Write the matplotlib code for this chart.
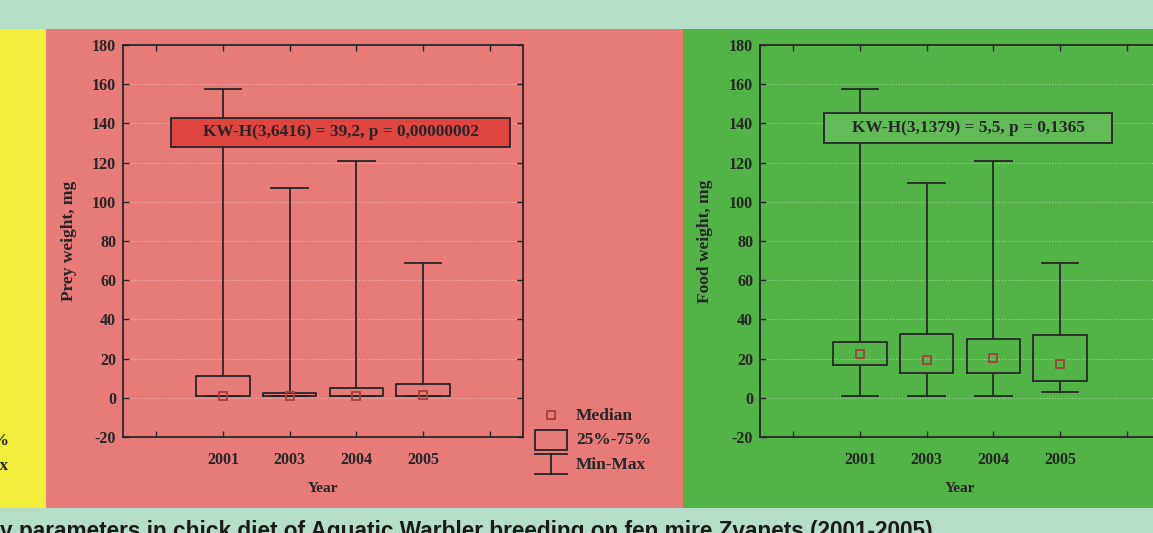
import matplotlib
matplotlib.use("Agg")
import matplotlib.pyplot as plt
from matplotlib.patches import Rectangle

plt.rcParams["axes.unicode_minus"] = False

# Kruskal-Wallis summaries per year (mg)
years = ["2001", "2003", "2004", "2005"]

prey_min = [0.8, 0.8, 0.8, 0.8]
prey_q1 = [0.9, 0.9, 0.9, 0.9]
prey_median = [0.8, 0.8, 0.8, 1.4]
prey_q3 = [10.9, 2.7, 4.9, 6.8]
prey_max = [157.6, 107.0, 120.8, 68.8]
prey_test = "KW-H(3,6416) = 39,2, p = 0,00000002"

food_min = [0.8, 0.8, 0.8, 2.9]
food_q1 = [16.7, 12.8, 12.8, 8.7]
food_median = [22.3, 19.4, 20.2, 17.2]
food_q3 = [28.7, 32.8, 29.8, 31.8]
food_max = [157.6, 109.7, 120.8, 68.8]
food_test = "KW-H(3,1379) = 5,5, p = 0,1365"

yticks = [-20, 0, 20, 40, 60, 80, 100, 120, 140, 160, 180]

W, H = 1153, 533
TEAL = "#b5dec9"
YELLOW = "#f2ee3b"
RED_BG = "#e67b78"
GREEN_BG = "#52b346"
INK = "#262626"
MED = "#a8403c"

SERIF = ["Liberation Serif", "DejaVu Serif"]


def px(x, y, w, h):
    # pixel box (top-left origin) -> figure fraction
    return [x / W, 1 - (y + h) / H, w / W, h / H]


fig = plt.figure(figsize=(W / 100, H / 100), dpi=100)
fig.patch.set_facecolor(TEAL)

for (x, y, w, h), c in [((0, 29, 46, 479), YELLOW),
                        ((46, 29, 637, 479), RED_BG),
                        ((683, 29, 470, 479), GREEN_BG)]:
    l, b, ww, hh = px(x, y, w, h)
    fig.patches.append(Rectangle((l, b), ww, hh, transform=fig.transFigure,
                                 facecolor=c, edgecolor="none", zorder=-2))


def panel(rect, bg, lo, q1, med, q3, hi, test, box_rect, box_fc, ylabel,
          label_x):
    ax = fig.add_axes(px(*rect))
    ax.set_facecolor(bg)
    stats = [dict(whislo=a, q1=b, med=c, q3=d, whishi=e, label=y)
             for a, b, c, d, e, y in zip(lo, q1, med, q3, hi, years)]
    pos = list(range(1, len(years) + 1))
    line = dict(color=INK, linewidth=1.3)
    ax.bxp(stats, positions=pos, widths=0.8, capwidths=0.55,
           showfliers=False, boxprops=line, whiskerprops=line,
           capprops=line, medianprops=dict(visible=False),
           manage_ticks=False)
    ax.plot(pos, med, "s", ms=5.5, mfc="none", mec=MED, mew=1.3, zorder=4)

    ax.set_xlim(-0.5, 5.5)
    ax.set_ylim(-20, 180)
    ax.set_xticks(range(0, 6))
    ax.set_xticklabels([""] + years + [""])
    ax.set_yticks(yticks)
    ax.grid(axis="y", color="white", alpha=0.45, linestyle=":", linewidth=0.8)
    ax.set_axisbelow(True)
    ax.tick_params(direction="in", top=True, right=True, length=4,
                   width=1.0, color=INK, labelsize=11.5, pad=11)
    ax.tick_params(axis="y", pad=5)
    for lab in ax.get_xticklabels() + ax.get_yticklabels():
        lab.set_family(SERIF)
        lab.set_fontweight("bold")
        lab.set_color(INK)
    for s in ax.spines.values():
        s.set_color(INK)
        s.set_linewidth(1.3)

    ax.set_xlabel("Year", family=SERIF, fontweight="bold", fontsize=11,
                  color=INK)
    ax.xaxis.set_label_coords(0.5, -0.115)
    ax.set_ylabel(ylabel, family=SERIF, fontweight="bold", fontsize=12.5,
                  color=INK)
    ax.yaxis.set_label_coords(label_x, 0.5)

    # test result banner
    l, b, ww, hh = px(*box_rect)
    fig.patches.append(Rectangle((l, b), ww, hh, transform=fig.transFigure,
                                 facecolor=box_fc, edgecolor=INK,
                                 linewidth=1.3, zorder=5))
    fig.text(l + ww / 2, b + hh / 2, test, ha="center", va="center",
             family=SERIF, fontweight="bold", fontsize=12.4, color=INK,
             zorder=6)
    return ax


panel((123, 45, 400, 392), RED_BG, prey_min, prey_q1, prey_median, prey_q3,
      prey_max, prey_test, (171, 118, 339, 29), "#df4541", "Prey weight, mg",
      -0.115)
panel((760, 45, 400, 392), GREEN_BG, food_min, food_q1, food_median,
      food_q3, food_max, food_test, (824, 113, 288, 30), "#62bb57",
      "Food weight, mg", -0.117)

# legend keys (pixel coordinates inside a blank axes)
lg = fig.add_axes(px(525, 400, 150, 85))
lg.set_xlim(525, 675)
lg.set_ylim(485, 400)
lg.axis("off")
lg.plot([551], [415], "s", ms=5.5, mfc="none", mec=MED, mew=1.3)
lg.add_patch(Rectangle((535, 430), 32, 20, facecolor="none",
                       edgecolor=INK, linewidth=1.3))
lg.plot([535, 567], [454, 454], color=INK, lw=1.3)
lg.plot([551, 551], [454, 474], color=INK, lw=1.3)
lg.plot([535, 567], [474, 474], color=INK, lw=1.3)
for y, t in [(416, "Median"), (440, "25%-75%"), (465, "Min-Max")]:
    lg.text(576, y, t, va="center", ha="left", family=SERIF,
            fontweight="bold", fontsize=12.5, color=INK)

# tail of the neighbouring legend
for y, t in [(441, "25%-75%"), (466, "Min-Max")]:
    fig.text(9 / W, 1 - y / H, t, ha="right", va="center", family=SERIF,
             fontweight="bold", fontsize=12.5, color=INK)

fig.text(0, 1 - 538 / H,
         "y parameters in chick diet of Aquatic Warbler breeding on fen "
         "mire Zvanets (2001-2005)", ha="left", va="baseline",
         family=["Liberation Sans", "DejaVu Sans"], fontweight="bold",
         fontsize=16.3, color="#1a1a1a")

fig.savefig("out.png", dpi=100, facecolor=fig.get_facecolor())
